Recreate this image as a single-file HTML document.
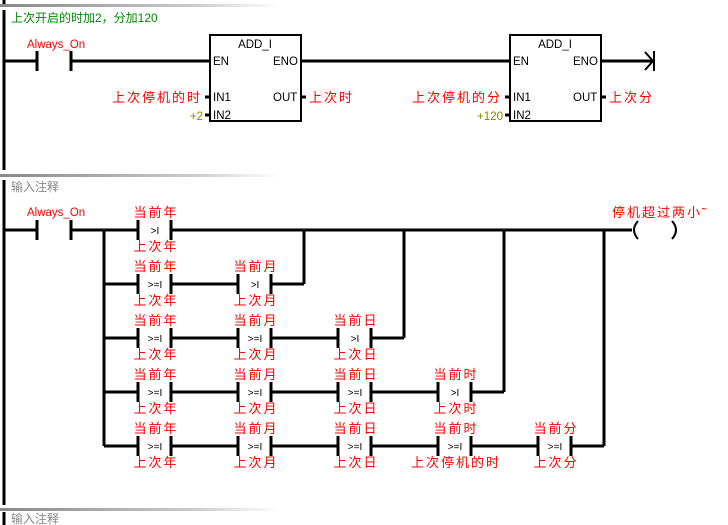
<!DOCTYPE html>
<html><head><meta charset="utf-8"><style>
html,body{margin:0;padding:0;background:#fff;}
svg{display:block;}
text{font-family:"Liberation Sans","Noto Sans CJK SC",sans-serif;}
.r{fill:#f00;font-size:13px;letter-spacing:2px;}
.b{fill:#000;font-size:11.5px;}
</style></head><body>
<svg width="728" height="525" viewBox="0 0 728 525" xmlns="http://www.w3.org/2000/svg">
<defs><linearGradient id="g" x1="0" x2="1"><stop offset="0" stop-color="#888"/><stop offset="0.7" stop-color="#ccc"/><stop offset="1" stop-color="#fff"/></linearGradient></defs>
<rect x="0" y="4" width="280" height="3" fill="url(#g)"/>
<rect x="0" y="174" width="280" height="3" fill="url(#g)"/>
<rect x="0" y="508" width="280" height="3" fill="url(#g)"/>
<g stroke="#000" stroke-width="3" fill="none">
<line x1="4" y1="10" x2="4" y2="170"/>
<line x1="4" y1="180" x2="4" y2="505"/>
<line x1="4" y1="0" x2="4" y2="4"/>
<line x1="4" y1="512" x2="4" y2="525"/>
<line x1="4" y1="61" x2="37" y2="61"/><line x1="37" y1="51" x2="37" y2="71"/><line x1="71" y1="51" x2="71" y2="71"/>
<line x1="71" y1="61" x2="210" y2="61"/>
<rect x="210" y="35" width="91" height="86" stroke-width="2"/>
<line x1="301" y1="61" x2="510" y2="61"/>
<rect x="510" y="35" width="91" height="86" stroke-width="2"/>
<line x1="601" y1="61" x2="654" y2="61"/>
<polyline points="645,52 653,61 645,70" stroke-width="2"/>
<line x1="654" y1="51" x2="654" y2="71" stroke-width="2"/>
<line x1="205" y1="97" x2="210" y2="97"/><line x1="205" y1="115" x2="210" y2="115"/><line x1="301" y1="97" x2="306" y2="97"/>
<line x1="505" y1="97" x2="510" y2="97"/><line x1="505" y1="115" x2="510" y2="115"/><line x1="601" y1="97" x2="606" y2="97"/>
<line x1="4" y1="230" x2="37" y2="230"/><line x1="37" y1="220" x2="37" y2="240"/><line x1="71" y1="220" x2="71" y2="240"/>
<line x1="71" y1="230" x2="138" y2="230"/>
<line x1="104" y1="230" x2="104" y2="446"/>
<line x1="171" y1="230" x2="632" y2="230"/>
<line x1="304" y1="230" x2="304" y2="284"/>
<line x1="404" y1="230" x2="404" y2="338"/>
<line x1="504" y1="230" x2="504" y2="392"/>
<line x1="604" y1="230" x2="604" y2="446"/>
<line x1="104" y1="284" x2="138" y2="284"/><line x1="171" y1="284" x2="238" y2="284"/><line x1="271" y1="284" x2="304" y2="284"/>
<line x1="104" y1="338" x2="138" y2="338"/><line x1="171" y1="338" x2="238" y2="338"/><line x1="271" y1="338" x2="338" y2="338"/><line x1="371" y1="338" x2="404" y2="338"/>
<line x1="104" y1="392" x2="138" y2="392"/><line x1="171" y1="392" x2="238" y2="392"/><line x1="271" y1="392" x2="338" y2="392"/><line x1="371" y1="392" x2="438" y2="392"/><line x1="471" y1="392" x2="504" y2="392"/>
<line x1="104" y1="446" x2="138" y2="446"/><line x1="171" y1="446" x2="238" y2="446"/><line x1="271" y1="446" x2="338" y2="446"/><line x1="371" y1="446" x2="438" y2="446"/><line x1="471" y1="446" x2="538" y2="446"/><line x1="571" y1="446" x2="604" y2="446"/>
<path d="M638,221 Q630,230 638,239" stroke-width="2"/>
<path d="M672,221 Q680,230 672,239" stroke-width="2"/>
</g>
<g stroke="#000" stroke-width="3">
<line x1="138" y1="220" x2="138" y2="240"/><line x1="171" y1="220" x2="171" y2="240"/>
<line x1="138" y1="274" x2="138" y2="294"/><line x1="171" y1="274" x2="171" y2="294"/><line x1="238" y1="274" x2="238" y2="294"/><line x1="271" y1="274" x2="271" y2="294"/>
<line x1="138" y1="328" x2="138" y2="348"/><line x1="171" y1="328" x2="171" y2="348"/><line x1="238" y1="328" x2="238" y2="348"/><line x1="271" y1="328" x2="271" y2="348"/><line x1="338" y1="328" x2="338" y2="348"/><line x1="371" y1="328" x2="371" y2="348"/>
<line x1="138" y1="382" x2="138" y2="402"/><line x1="171" y1="382" x2="171" y2="402"/><line x1="238" y1="382" x2="238" y2="402"/><line x1="271" y1="382" x2="271" y2="402"/><line x1="338" y1="382" x2="338" y2="402"/><line x1="371" y1="382" x2="371" y2="402"/><line x1="438" y1="382" x2="438" y2="402"/><line x1="471" y1="382" x2="471" y2="402"/>
<line x1="138" y1="436" x2="138" y2="456"/><line x1="171" y1="436" x2="171" y2="456"/><line x1="238" y1="436" x2="238" y2="456"/><line x1="271" y1="436" x2="271" y2="456"/><line x1="338" y1="436" x2="338" y2="456"/><line x1="371" y1="436" x2="371" y2="456"/><line x1="438" y1="436" x2="438" y2="456"/><line x1="471" y1="436" x2="471" y2="456"/><line x1="538" y1="436" x2="538" y2="456"/><line x1="571" y1="436" x2="571" y2="456"/>
</g>
<text x="11" y="22" fill="#080" font-size="12">上次开启的时加2，分加120</text>
<text x="27" y="48" fill="#f00" font-size="11.5">Always_On</text>
<g class="b">
<text x="255" y="48" text-anchor="middle">ADD_I</text><text x="213" y="65">EN</text><text x="273" y="65">ENO</text>
<text x="213" y="101">IN1</text><text x="213" y="119">IN2</text><text x="273" y="101">OUT</text>
<text x="555" y="48" text-anchor="middle">ADD_I</text><text x="513" y="65">EN</text><text x="573" y="65">ENO</text>
<text x="513" y="101">IN1</text><text x="513" y="119">IN2</text><text x="573" y="101">OUT</text>
</g>
<text class="r" x="202" y="102" text-anchor="end">上次停机的时</text>
<text x="203" y="120" fill="#880" font-size="11.5" text-anchor="end">+2</text>
<text class="r" x="309" y="102">上次时</text>
<text class="r" x="502" y="102" text-anchor="end">上次停机的分</text>
<text x="503" y="120" fill="#880" font-size="11.5" text-anchor="end">+120</text>
<text class="r" x="609" y="102">上次分</text>
<text x="11" y="191" fill="#888" font-size="12">输入注释</text>
<text x="11" y="523" fill="#888" font-size="12">输入注释</text>
<text x="27" y="216" fill="#f00" font-size="11.5">Always_On</text>
<text class="r" x="612" y="217">停机超过两小˜</text>
<g class="r" text-anchor="middle">
<text x="156" y="217">当前年</text><text x="156" y="251">上次年</text>
<text x="156" y="271">当前年</text><text x="156" y="305">上次年</text><text x="256" y="271">当前月</text><text x="256" y="305">上次月</text>
<text x="156" y="325">当前年</text><text x="156" y="359">上次年</text><text x="256" y="325">当前月</text><text x="256" y="359">上次月</text><text x="356" y="325">当前日</text><text x="356" y="359">上次日</text>
<text x="156" y="379">当前年</text><text x="156" y="413">上次年</text><text x="256" y="379">当前月</text><text x="256" y="413">上次月</text><text x="356" y="379">当前日</text><text x="356" y="413">上次日</text><text x="456" y="379">当前时</text><text x="456" y="413">上次时</text>
<text x="156" y="433">当前年</text><text x="156" y="467">上次年</text><text x="256" y="433">当前月</text><text x="256" y="467">上次月</text><text x="356" y="433">当前日</text><text x="356" y="467">上次日</text><text x="456" y="433">当前时</text><text x="456" y="467">上次停机的时</text><text x="556" y="433">当前分</text><text x="556" y="467">上次分</text>
</g>
<g font-size="10" fill="#000" text-anchor="middle" font-family="Liberation Sans,sans-serif">
<text x="155" y="234">&gt;I</text>
<text x="155" y="288">&gt;=I</text><text x="255" y="288">&gt;I</text>
<text x="155" y="342">&gt;=I</text><text x="255" y="342">&gt;=I</text><text x="355" y="342">&gt;I</text>
<text x="155" y="396">&gt;=I</text><text x="255" y="396">&gt;=I</text><text x="355" y="396">&gt;=I</text><text x="455" y="396">&gt;I</text>
<text x="155" y="450">&gt;=I</text><text x="255" y="450">&gt;=I</text><text x="355" y="450">&gt;=I</text><text x="455" y="450">&gt;=I</text><text x="555" y="450">&gt;=I</text>
</g>
</svg>
</body></html>
